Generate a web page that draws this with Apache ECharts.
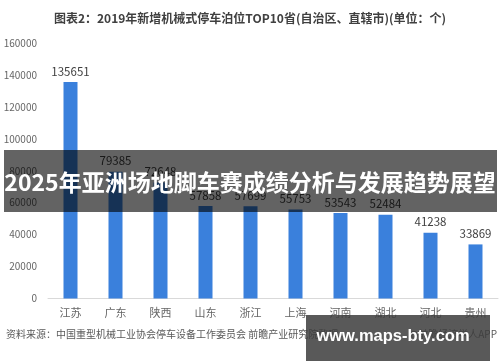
<!DOCTYPE html>
<html>
<head>
<meta charset="utf-8">
<script src="https://cdn.jsdelivr.net/npm/echarts@6/dist/echarts.min.js"></script>
<style>
html,body{margin:0;padding:0;background:#fff;}
#main{width:500px;height:362px;}
</style>
</head>
<body>
<div id="main"></div>
<script>
const categories = ['江苏','广东','陕西','山东','浙江','上海','河南','湖北','河北','贵州'];
const values = [135651, 79385, 72648, 57858, 57699, 55753, 53543, 52484, 41238, 33869];
const yTicks = [0, 20000, 40000, 60000, 80000, 100000, 120000, 140000, 160000];
const titleText = '图表2：2019年新增机械式停车泊位TOP10省(自治区、直辖市)(单位：个)';
const bannerText = '2025年亚洲场地脚车赛成绩分析与发展趋势展望';
const sourceText = '资料来源：中国重型机械工业协会停车设备工作委员会 前瞻产业研究院整理';
const appText = '@前瞻经济学人APP';
const siteText = 'www.maps-bty.com';

const font = '"Noto Sans CJK SC", "Noto Sans", sans-serif';
const chart = echarts.init(document.getElementById('main'), null, {renderer: 'canvas'});
chart.setOption({
  animation: false,
  backgroundColor: '#ffffff',
  title: {
    text: titleText,
    left: 'center',
    top: 7,
    textStyle: {fontFamily: font, fontSize: 12, fontWeight: 'bold', color: '#404040'}
  },
  grid: {left: 48, right: 2, top: 43, bottom: 63.5},
  xAxis: {
    type: 'category',
    data: categories,
    axisLine: {lineStyle: {color: '#d9d9d9'}},
    axisTick: {show: false},
    axisLabel: {fontFamily: font, fontSize: 11, color: '#666666', margin: 9}
  },
  yAxis: {
    type: 'value',
    min: yTicks[0],
    max: yTicks[yTicks.length - 1],
    interval: yTicks[1] - yTicks[0],
    axisLine: {show: false},
    axisTick: {show: false},
    splitLine: {show: false},
    axisLabel: {fontFamily: font, fontSize: 10, color: '#666666', margin: 11,
      formatter: function (v) { return String(v); }}
  },
  series: [{
    type: 'bar',
    data: values,
    barWidth: 14,
    itemStyle: {color: '#3a80dc'},
    label: {show: true, position: 'top', distance: 5, fontFamily: font, fontSize: 11.5, color: '#404040'}
  }],
  graphic: [
    {
      type: 'rect', left: 4, top: 150, z: 100,
      shape: {width: 493, height: 62},
      style: {fill: 'rgba(0,0,0,0.61)'}
    },
    {
      type: 'text', z: 101, x: 250, y: 182,
      style: {text: bannerText, fill: '#ffffff', font: 'bold 23px ' + font,
        textAlign: 'center', textVerticalAlign: 'middle'}
    },
    {
      type: 'text', z: 50, x: 6, y: 334,
      style: {text: sourceText, fill: '#595959', font: '10px ' + font,
        textAlign: 'left', textVerticalAlign: 'middle'}
    },
    {
      type: 'text', z: 50, x: 497, y: 334,
      style: {text: appText, fill: '#595959', font: '10px ' + font,
        textAlign: 'right', textVerticalAlign: 'middle'}
    },
    {
      type: 'rect', left: 306, top: 315, z: 100,
      shape: {width: 184, height: 46},
      style: {fill: 'rgba(60,60,60,0.85)'}
    },
    {
      type: 'text', z: 101, x: 393, y: 336,
      style: {text: siteText, fill: '#ffffff', font: 'bold 16.5px "Liberation Sans", Arial, sans-serif',
        textAlign: 'center', textVerticalAlign: 'middle'}
    }
  ]
});
</script>
</body>
</html>
